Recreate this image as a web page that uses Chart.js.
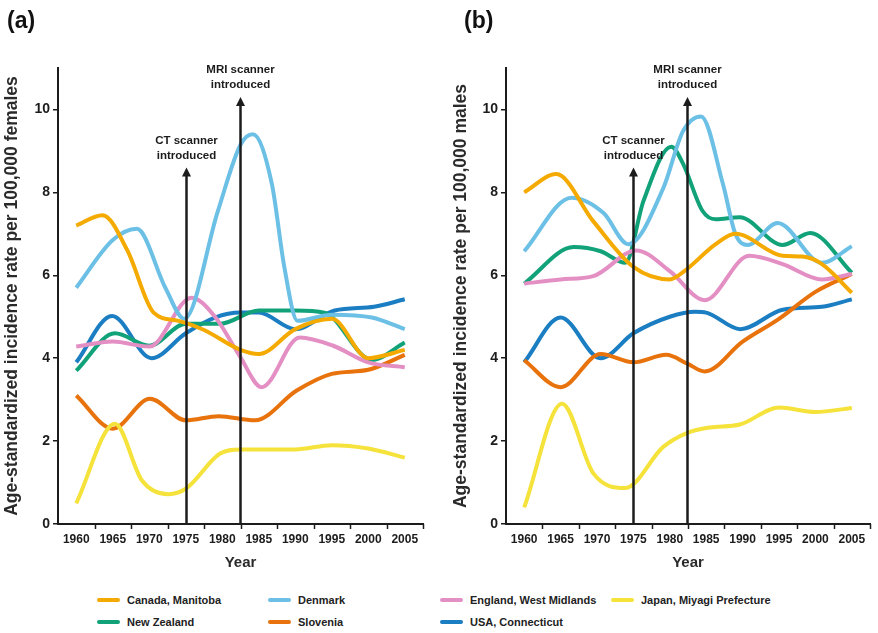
<!DOCTYPE html>
<html>
<head>
<meta charset="utf-8">
<script src="https://cdn.jsdelivr.net/npm/chart.js@4.4.1/dist/chart.umd.min.js"></script>
<style>
  body { margin: 0; background: #fff; font-family: 'Liberation Sans', Arial, sans-serif; }
  #wrap { position: relative; width: 878px; height: 633px; overflow: hidden; }
  canvas { position: absolute; top: 0; }
  .panel { position: absolute; top: 7px; font-weight: bold; font-size: 23px; color: #111; }
  .leg { position: absolute; display: flex; align-items: center; height: 14px; font-size: 11px; font-weight: bold; color: #222; white-space: nowrap; }
  .leg i { display: inline-block; width: 23px; height: 4px; border-radius: 2px; margin-right: 7px; }
</style>
</head>
<body>
<div id="wrap">
  <canvas id="chartA" width="440" height="580" style="left:0"></canvas>
  <canvas id="chartB" width="438" height="580" style="left:440px"></canvas>
  <div class="panel" style="left:7px">(a)</div>
  <div class="panel" style="left:464px">(b)</div>
</div>
<script>
// series order = legend order
const countries = ['Canada, Manitoba', 'Denmark', 'England, West Midlands', 'Japan, Miyagi Prefecture',
                   'New Zealand', 'Slovenia', 'USA, Connecticut']
const colours = ['#F4AA00', '#6CC0E5', '#E48FC4', '#F5E23A', '#12A27A', '#E8720C', '#1B7EC2']

const yearTicks = [1960, 1965, 1970, 1975, 1980, 1985, 1990, 1995, 2000, 2005]
const rateTicks = [0, 2, 4, 6, 8, 10]

// scanner introduction markers
const markerYears = [1975, 1982.4]
const markerTops = [8.6, 10.3]
const markerLabels = [['CT scanner', 'introduced'], ['MRI scanner', 'introduced']]

// (a) females, [year, rate]
const femCanada = [[1960, 7.2], [1963.6, 7.45], [1967, 6.6], [1970.6, 5.1], [1974, 4.9], [1977.5, 4.68],
                   [1982.5, 4.2], [1985, 4.1], [1990, 4.7], [1995, 4.95], [2000, 4.0], [2005, 4.2]]
const femDenmark = [[1960, 5.7], [1965, 6.85], [1968.3, 7.12], [1972.2, 5.7], [1974.8, 4.95], [1979.4, 7.55],
                    [1982.5, 9.15], [1984.2, 9.4], [1986.8, 8.2], [1988.5, 6.2], [1990.3, 4.9], [1995, 5.05],
                    [2000.5, 4.98], [2005, 4.7]]
const femEngland = [[1960, 4.28], [1965, 4.4], [1970, 4.28], [1975.8, 5.46], [1979, 5.0], [1982.4, 4.05],
                    [1985.4, 3.3], [1990.6, 4.5], [1995.2, 4.3], [2000, 3.9], [2005, 3.78]]
const femJapan = [[1960, 0.5], [1965.3, 2.42], [1969, 1.05], [1972.6, 0.72], [1975, 0.85], [1979.7, 1.7],
                  [1982.5, 1.8], [1990, 1.8], [1995, 1.9], [2000, 1.82], [2005, 1.6]]
const femNewZealand = [[1960, 3.7], [1965.3, 4.6], [1970, 4.3], [1975, 4.83], [1979.7, 4.83], [1985, 5.15],
                       [1990, 5.15], [1994, 5.1], [2000.5, 3.96], [2005, 4.38]]
const femSlovenia = [[1960, 3.1], [1965, 2.3], [1970.1, 3.02], [1975, 2.5], [1979.5, 2.6], [1984.5, 2.5],
                     [1990.2, 3.22], [1995, 3.62], [2000, 3.72], [2005, 4.08]]
const femUSA = [[1960, 3.9], [1964.9, 5.02], [1970.3, 4.0], [1975, 4.6], [1979, 4.98], [1982.5, 5.1],
                [1985, 5.1], [1990, 4.7], [1995.4, 5.15], [2000.8, 5.24], [2005, 5.42]]

// (b) males, [year, rate]
const maleCanada = [[1960, 8.0], [1964.4, 8.44], [1969.5, 7.3], [1975, 6.2], [1980, 5.9], [1982, 6.1],
                    [1986.3, 6.75], [1989, 7.0], [1995.5, 6.47], [1998.2, 6.45], [2000.9, 6.27], [2005, 5.58]]
const maleDenmark = [[1960, 6.58], [1966.5, 7.87], [1970.9, 7.5], [1974.3, 6.75], [1979.1, 8.1], [1981.8, 9.47],
                     [1984.3, 9.83], [1987.3, 8.2], [1989, 7.0], [1990.7, 6.73], [1994.8, 7.26], [2000.9, 6.3],
                     [2005, 6.7]]
const maleEngland = [[1960, 5.8], [1965, 5.9], [1969.5, 5.98], [1975.4, 6.6], [1980, 6.1], [1984.8, 5.4],
                     [1990.9, 6.47], [1995.5, 6.27], [2000.9, 5.9], [2005, 6.03]]
const maleJapan = [[1960, 0.4], [1965.2, 2.9], [1969.5, 1.22], [1973.9, 0.87], [1979.1, 1.86], [1982.4, 2.2],
                   [1985.5, 2.33], [1989.6, 2.4], [1995, 2.81], [2000, 2.7], [2005, 2.8]]
const maleNewZealand = [[1960, 5.8], [1966.8, 6.68], [1970.5, 6.58], [1973.9, 6.3], [1976.4, 7.8], [1980.2, 9.1],
                        [1981.8, 8.7], [1984.5, 7.55], [1986.3, 7.35], [1989.6, 7.4], [1995.5, 6.73],
                        [1999.3, 7.02], [2005, 6.06]]
const maleSlovenia = [[1960, 3.95], [1965, 3.3], [1970.5, 4.1], [1975, 3.9], [1979.5, 4.08], [1982.4, 3.87],
                      [1984.8, 3.68], [1990, 4.4], [1995, 4.95], [2000, 5.6], [2005, 6.03]]
const maleUSA = [[1960, 3.9], [1965, 4.98], [1970.5, 4.0], [1975, 4.6], [1980, 5.0], [1983.5, 5.12],
                 [1985, 5.1], [1989.7, 4.7], [1995.5, 5.17], [2000.9, 5.24], [2005, 5.42]]

const femaleSeries = [femCanada, femDenmark, femEngland, femJapan, femNewZealand, femSlovenia, femUSA]
const maleSeries = [maleCanada, maleDenmark, maleEngland, maleJapan, maleNewZealand, maleSlovenia, maleUSA]

const FONT = "'Liberation Sans', Arial, sans-serif"
const INK = '#1c1c1c'

// arrows + the small tick marks between year labels
const markersPlugin = {
    id: 'markers',
    afterDatasetsDraw(chart) {
        const ctx = chart.ctx
        const xs = chart.scales.x, ys = chart.scales.y
        ctx.save()
        markerYears.forEach((yr, i) => {
            const x = Math.round(xs.getPixelForValue(yr)) + 0.5
            const y0 = ys.getPixelForValue(0)
            const tip = ys.getPixelForValue(markerTops[i])
            ctx.strokeStyle = INK
            ctx.lineWidth = 2.5
            ctx.beginPath()
            ctx.moveTo(x, y0)
            ctx.lineTo(x, tip + 6)
            ctx.stroke()
            ctx.fillStyle = INK
            ctx.beginPath()
            ctx.moveTo(x, tip)
            ctx.lineTo(x - 4.5, tip + 9)
            ctx.lineTo(x + 4.5, tip + 9)
            ctx.closePath()
            ctx.fill()
            ctx.font = 'bold 11.5px ' + FONT
            ctx.textAlign = 'center'
            ctx.textBaseline = 'middle'
            ctx.fillText(markerLabels[i][0], x, tip - 27)
            ctx.fillText(markerLabels[i][1], x, tip - 12)
        })
        ctx.restore()
    },
    afterDraw(chart) {
        const ctx = chart.ctx
        const xs = chart.scales.x
        const b = chart.chartArea.bottom
        ctx.save()
        ctx.strokeStyle = INK
        ctx.lineWidth = 1.5
        for (let yr = xs.min + 5; yr <= xs.max + 0.01; yr += 5) {
            const x = Math.round(xs.getPixelForValue(yr)) + 0.5
            ctx.beginPath()
            ctx.moveTo(x, b)
            ctx.lineTo(x, b + 5)
            ctx.stroke()
        }
        ctx.restore()
    }
}

function makeChart(id, series, yTitle, axisWidth, titlePad, rightPad) {
    const datasets = series.map((pts, i) => ({
        label: countries[i],
        data: pts.map(p => ({x: p[0], y: p[1]})),
        borderColor: colours[i],
        borderWidth: 4,
        pointRadius: 0,
        fill: false,
        cubicInterpolationMode: 'monotone'
    }))

    return new Chart(document.getElementById(id), {
        type: 'line',
        data: {datasets: datasets},
        options: {
            responsive: false,
            animation: false,
            layout: {padding: {left: 0, top: 68, right: rightPad, bottom: 0}},
            plugins: {legend: {display: false}, tooltip: {enabled: false}},
            scales: {
                x: {
                    type: 'linear',
                    min: 1957.5,
                    max: 2007.5,
                    afterBuildTicks: s => { s.ticks = yearTicks.map(v => ({value: v})) },
                    afterFit: s => { s.height = 56 },
                    ticks: {
                        callback: v => String(v),
                        font: {family: FONT, size: 12, weight: 'bold'},
                        color: INK, padding: 8, maxRotation: 0, autoSkip: false
                    },
                    grid: {drawOnChartArea: false, drawTicks: false},
                    border: {color: INK, width: 2},
                    title: {
                        display: true, text: 'Year', color: '#2a2a2a',
                        font: {family: FONT, size: 15, weight: 'bold'},
                        padding: {top: 0, bottom: 8}
                    }
                },
                y: {
                    min: 0,
                    max: 11,
                    afterBuildTicks: s => { s.ticks = rateTicks.map(v => ({value: v})) },
                    afterFit: s => { s.width = axisWidth },
                    ticks: {
                        callback: v => String(v),
                        font: {family: FONT, size: 14, weight: 'bold'},
                        color: INK, padding: 3
                    },
                    grid: {drawOnChartArea: false, drawTicks: true, tickLength: 5, color: INK, lineWidth: 1.5},
                    border: {color: INK, width: 2},
                    title: {
                        display: true, text: yTitle, color: '#2a2a2a',
                        font: {family: FONT, size: 17.5, weight: 'bold'},
                        padding: {top: titlePad, bottom: 0}
                    }
                }
            }
        },
        plugins: [markersPlugin]
    })
}

makeChart('chartA', femaleSeries, 'Age-standardized incidence rate per 100,000 females', 58, 2, 17)
makeChart('chartB', maleSeries, 'Age-standardized incidence rate per 100,000 males', 66, 11, 8)

// shared legend under both panels
const legendSlots = [[97, 593], [268, 593], [440, 593], [611, 593], [97, 615], [268, 615], [440, 615]]
const wrap = document.getElementById('wrap')
countries.forEach((name, i) => {
    const el = document.createElement('div')
    el.className = 'leg'
    el.style.left = legendSlots[i][0] + 'px'
    el.style.top = legendSlots[i][1] + 'px'
    el.innerHTML = `<i style="background:${colours[i]}"></i>${name}`
    wrap.appendChild(el)
})
</script>
</body>
</html>
